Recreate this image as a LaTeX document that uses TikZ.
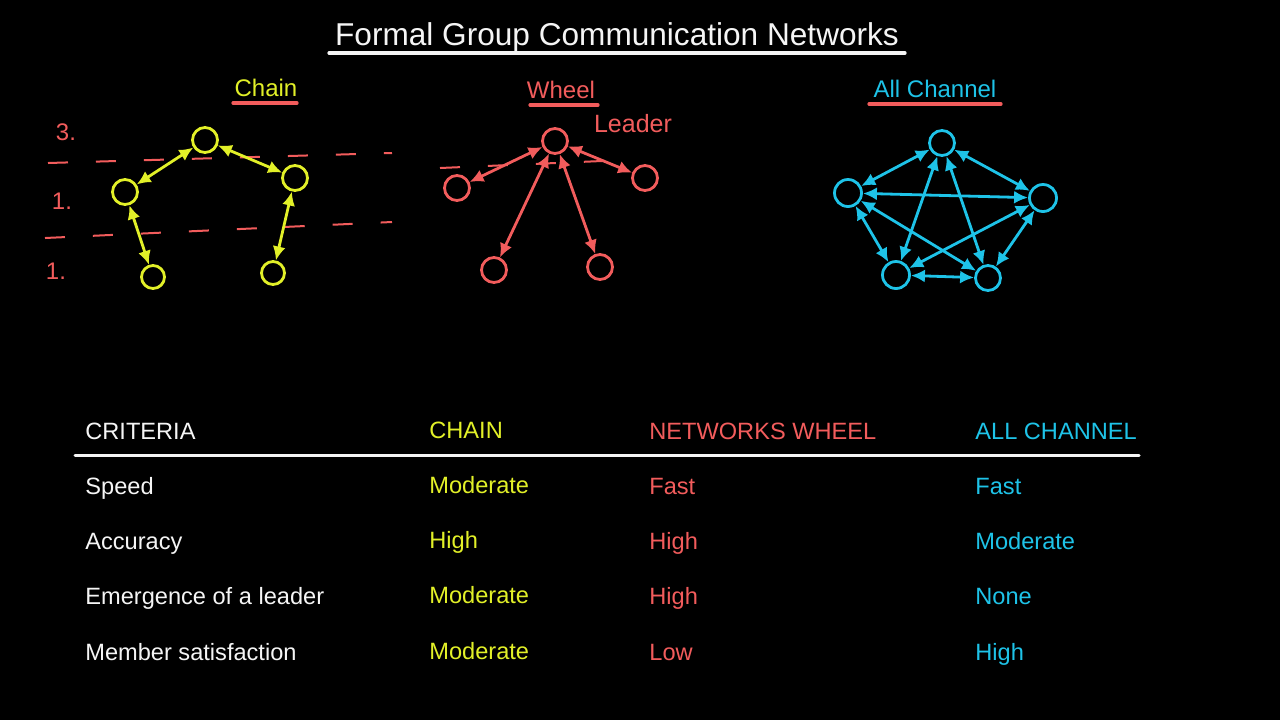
\documentclass[tikz,border=0pt]{standalone}
\usepackage{fontspec}
\setmainfont{Liberation Sans}
\usetikzlibrary{arrows.meta}
\definecolor{cyel}{RGB}{226,240,40}
\definecolor{cred}{RGB}{242,92,92}
\definecolor{ccyan}{RGB}{30,195,232}
\definecolor{cwhite}{RGB}{245,245,245}
\begin{document}
\begin{tikzpicture}[x=0.5pt,y=-0.5pt,
  mem/.style={circle, draw, line width=1.4pt, minimum size=12.5pt, inner sep=0pt},
  link/.style={line width=1.4pt, {Latex[length=7pt,width=6.5pt]}-{Latex[length=7pt,width=6.5pt]}},
  tbl/.style={anchor=base west, inner sep=0pt, font=\fontsize{11.8}{14}\selectfont},
  sect/.style={anchor=base, inner sep=0pt, font=\fontsize{12}{14}\selectfont},
  hand/.style={inner sep=0pt, text=cred, font=\fontsize{12}{14}\selectfont},
  guide/.style={draw=cred, line width=1pt, dash pattern=on 10pt off 14pt}]
\fill[black] (0,0) rectangle (1280,720);
\useasboundingbox (0,0) rectangle (1280,720);

% title
\node[anchor=base, inner sep=0pt, text=cwhite, font=\fontsize{15.8}{18}\selectfont] (title) at (617,45) {Formal Group Communication Networks};
\draw[cwhite, line width=1.6pt, line cap=round] (329,53) -- (905,53);

% section headings
\node[sect, text=cyel] (hchain) at (266,96) {Chain};
\node[sect, text=cred] (hwheel) at (561,98) {Wheel};
\node[sect, text=ccyan] (hall) at (935,97) {All Channel};
\draw[cred, line width=1.6pt, line cap=round] (233,103) -- (297,103);
\draw[cred, line width=1.6pt, line cap=round] (530,105) -- (598,105);
\draw[cred, line width=1.6pt, line cap=round] (869,104) -- (1001,104);

% chain guides
\draw[guide] (48,163) -- (392,153);
\draw[guide] (45,238) -- (392,222);
\node[hand] (n3) at (66,132) {3.};
\node[hand] (n1a) at (62,201) {1.};
\node[hand] (n1b) at (56,271) {1.};

% chain
\begin{scope}[cyel]
\node[mem] (c1) at (205,140) {};
\node[mem] (c2) at (125,192) {};
\node[mem] (c3) at (295,178) {};
\node[mem, minimum size=11.5pt] (c4) at (153,277) {};
\node[mem, minimum size=11.5pt] (c5) at (273,273) {};
\draw[link] (c1) -- (c2);
\draw[link] (c1) -- (c3);
\draw[link] (c2) -- (c4);
\draw[link] (c3) -- (c5);
\end{scope}

% wheel
\draw[guide] (440,168) -- (625,160);
\node[hand, font=\fontsize{12.5}{14}\selectfont] (lead) at (633,124) {Leader};
\begin{scope}[cred]
\node[mem] (w0) at (555,141) {};
\node[mem] (w1) at (457,188) {};
\node[mem] (w2) at (645,178) {};
\node[mem] (w3) at (494,270) {};
\node[mem] (w4) at (600,267) {};
\draw[link] (w0) -- (w1);
\draw[link] (w0) -- (w2);
\draw[link] (w0) -- (w3);
\draw[link] (w0) -- (w4);
\end{scope}

% all channel
\begin{scope}[ccyan]
\node[mem] (a1) at (942,143) {};
\node[mem, minimum size=13.5pt] (a2) at (848,193) {};
\node[mem, minimum size=13.5pt] (a3) at (1043,198) {};
\node[mem, minimum size=13.5pt] (a4) at (896,275) {};
\node[mem] (a5) at (988,278) {};
\draw[link] (a1) -- (a2);
\draw[link] (a1) -- (a3);
\draw[link] (a1) -- (a4);
\draw[link] (a1) -- (a5);
\draw[link] (a2) -- (a3);
\draw[link] (a2) -- (a4);
\draw[link] (a2) -- (a5);
\draw[link] (a3) -- (a4);
\draw[link] (a3) -- (a5);
\draw[link] (a4) -- (a5);
\end{scope}

% table
\node[tbl, text=cwhite] (t00) at (85,439) {CRITERIA};
\node[tbl, text=cyel] (t01) at (429,438) {CHAIN};
\node[tbl, text=cred] (t02) at (649,439) {NETWORKS WHEEL};
\node[tbl, text=ccyan] (t03) at (975,439) {ALL CHANNEL};
\draw[cwhite, line width=1.5pt, line cap=round] (75,455) -- (1139,455);

\node[tbl, text=cwhite] (t10) at (85,494) {Speed};
\node[tbl, text=cyel] (t11) at (429,493) {Moderate};
\node[tbl, text=cred] (t12) at (649,494) {Fast};
\node[tbl, text=ccyan] (t13) at (975,494) {Fast};

\node[tbl, text=cwhite] (t20) at (85,549) {Accuracy};
\node[tbl, text=cyel] (t21) at (429,548) {High};
\node[tbl, text=cred] (t22) at (649,549) {High};
\node[tbl, text=ccyan] (t23) at (975,549) {Moderate};

\node[tbl, text=cwhite] (t30) at (85,604) {Emergence of a leader};
\node[tbl, text=cyel] (t31) at (429,603) {Moderate};
\node[tbl, text=cred] (t32) at (649,604) {High};
\node[tbl, text=ccyan] (t33) at (975,604) {None};

\node[tbl, text=cwhite] (t40) at (85,660) {Member satisfaction};
\node[tbl, text=cyel] (t41) at (429,659) {Moderate};
\node[tbl, text=cred] (t42) at (649,660) {Low};
\node[tbl, text=ccyan] (t43) at (975,660) {High};
\end{tikzpicture}
\end{document}
